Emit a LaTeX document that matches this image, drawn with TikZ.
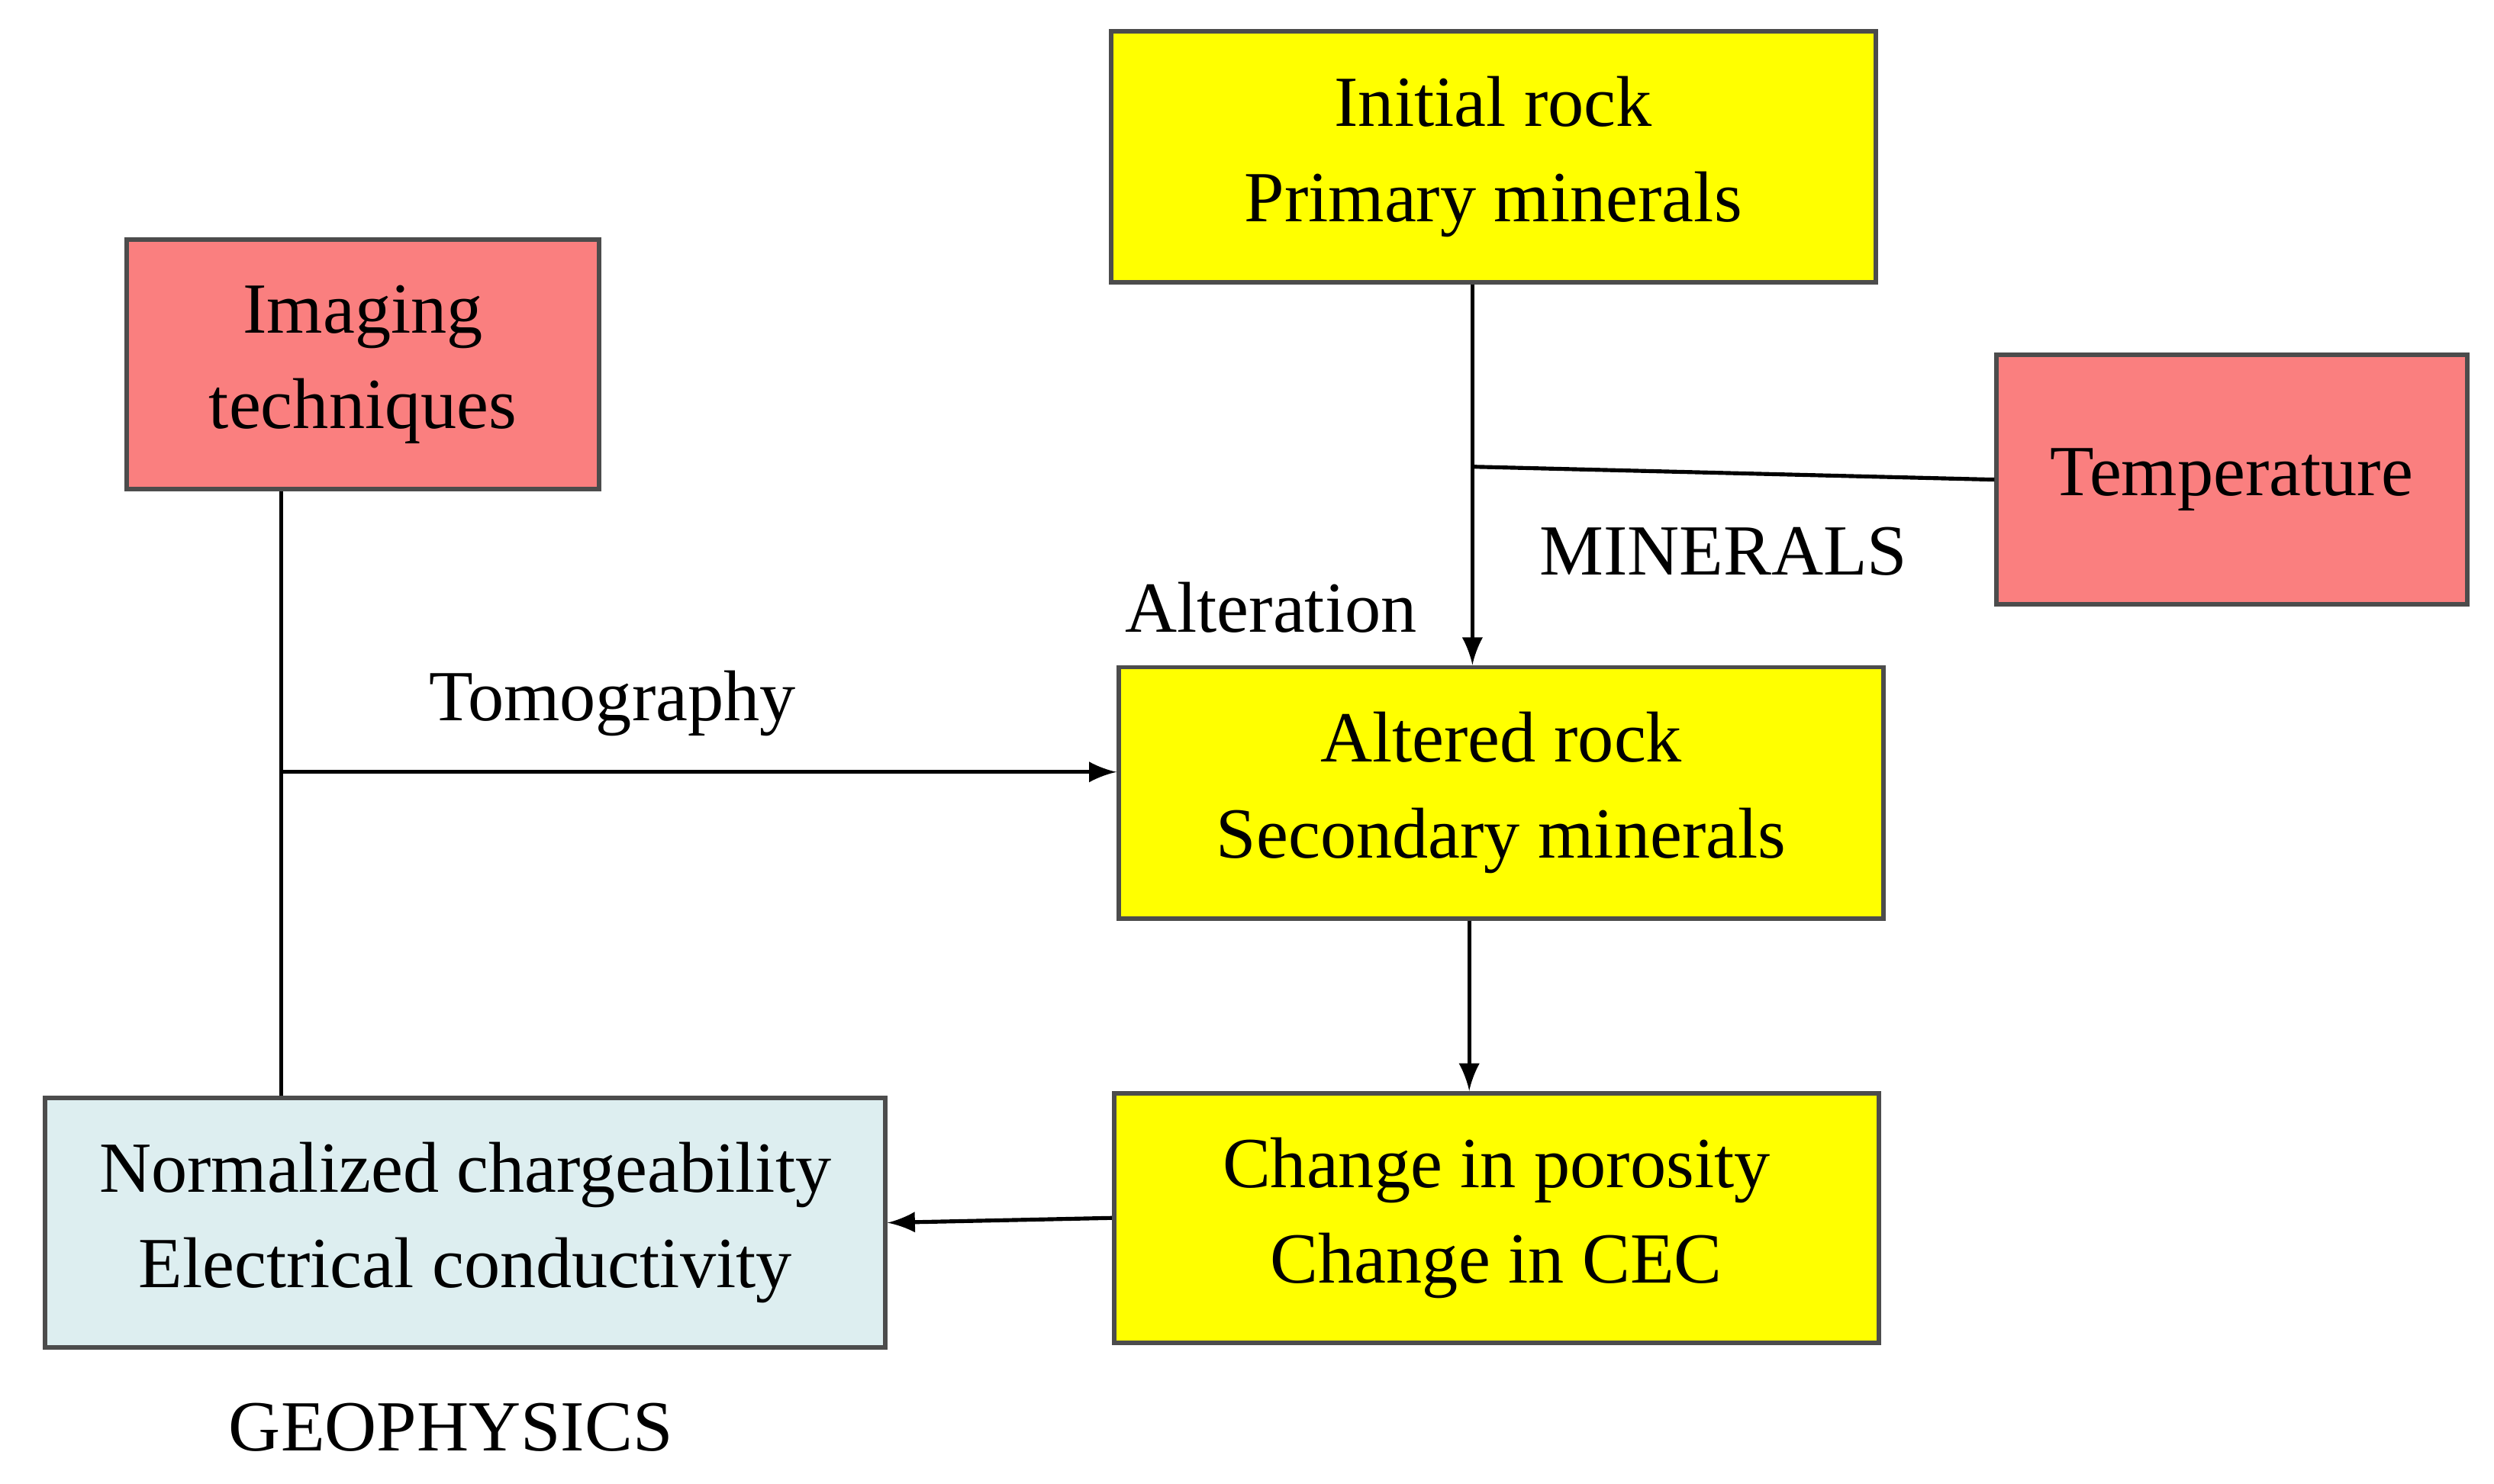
\documentclass[tikz,border=0pt]{standalone}
\usepackage{fontspec}
\setmainfont{Liberation Serif}
\begin{document}
\begin{tikzpicture}[x=0.01cm,y=-0.01cm,
  box/.style={draw=black!70,line width=0.8pt,align=center,inner sep=0pt,font=\fontsize{12.8}{17}\selectfont},
  lab/.style={font=\fontsize{12.8}{15}\selectfont,inner sep=0pt},
  arr/.style={-latex,line width=0.7pt},
  ln/.style={line width=0.7pt}]
\useasboundingbox (0,0) rectangle (1560,928);
\definecolor{yel}{HTML}{FFFF00}
\definecolor{sal}{HTML}{FA7F7F}
\definecolor{lblue}{HTML}{DDEEF0}
\node[box,fill=yel,minimum width=4.78cm,minimum height=1.57cm] (init) at (934,98) {Initial rock\\Primary minerals};
\node[box,fill=sal,minimum width=2.95cm,minimum height=1.56cm] (img) at (227,228) {Imaging\\techniques};
\node[box,fill=sal,minimum width=2.94cm,minimum height=1.56cm] (temp) at (1396,300) {Temperature};
\node[box,fill=yel,minimum width=4.78cm,minimum height=1.57cm] (alt) at (939,496) {Altered rock\\Secondary minerals};
\node[box,fill=yel,minimum width=4.78cm,minimum height=1.56cm] (chg) at (936,762) {Change in porosity\\Change in CEC};
\node[box,fill=lblue,minimum width=5.25cm,minimum height=1.56cm] (geo) at (291,765) {Normalized chargeability\\Electrical conductivity};
\node[lab] (minl) at (1078,345) {MINERALS};
\node[lab] (altl) at (795,380) {Alteration};
\node[lab] (toml) at (383,440) {Tomography};
\node[lab] (geol) at (282,893) {GEOPHYSICS};
\coordinate (j1) at (921,292);
\coordinate (j2) at (176,483);
\draw[arr] (init.south -| j1) -- (alt.north -| j1);
\draw[ln] (temp.west) -- ++(-4,0) -- (j1);
\draw[ln] (img.south -| j2) -- (geo.north -| j2);
\draw[arr] (j2) -- (alt.west |- j2);
\draw[arr] (alt.south -| 919,0) -- (chg.north -| 919,0);
\draw[arr] (chg.west) -- (geo.east);
\end{tikzpicture}
\end{document}
